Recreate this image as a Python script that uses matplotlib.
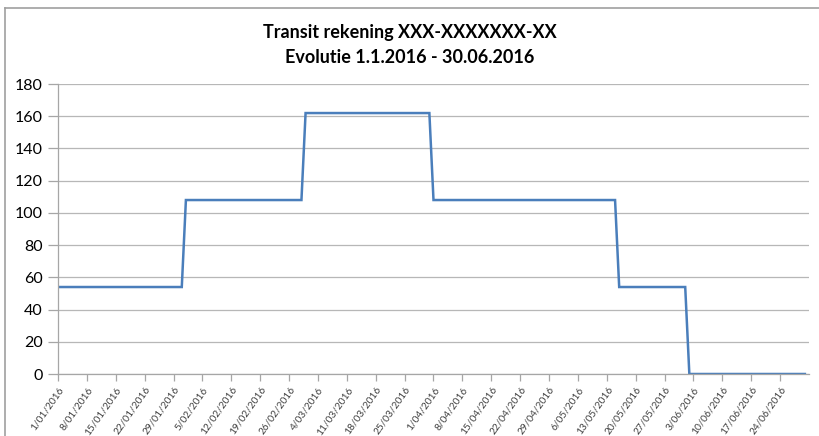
import matplotlib
matplotlib.use("Agg")
import matplotlib.pyplot as plt
import pandas as pd
from matplotlib.lines import Line2D

# corner points of the balance line (daily series, steps over one day)
dates = [
    "2016-01-01", "2016-01-31", "2016-02-01", "2016-02-29", "2016-03-01",
    "2016-03-31", "2016-04-01", "2016-05-15", "2016-05-16", "2016-06-01",
    "2016-06-02", "2016-06-30",
]
balance = [54, 54, 108, 108, 162, 162, 108, 108, 54, 54, 0, 0]

title = "Transit rekening XXX-XXXXXXX-XX\nEvolutie 1.1.2016 - 30.06.2016"
y_ticks = list(range(0, 181, 20))

plt.rcParams["font.family"] = ["Lato", "DejaVu Sans"]

fig = plt.figure(figsize=(8.19, 4.36), dpi=100)
ax = fig.add_axes([0.0708, 0.1422, 0.917, 0.665])

x = pd.to_datetime(dates)
ax.plot(x, balance, color="#4a7ebb", linewidth=1.8, solid_joinstyle="miter")

ax.set_xlim(pd.Timestamp("2016-01-01"), pd.Timestamp("2016-07-01"))
ax.set_ylim(0, 180)
ax.set_yticks(y_ticks)
ax.grid(axis="y", color="#b7b7b7", linewidth=0.9)
ax.set_axisbelow(True)

week_ticks = pd.date_range("2016-01-01", "2016-06-30", freq="7D")
ax.set_xticks(week_ticks)
ax.set_xticklabels([f"{d.day}/{d.month:02d}/{d.year}" for d in week_ticks],
                   rotation=55, ha="right", rotation_mode="anchor",
                   fontsize=7.3, color="#404040")

ax.tick_params(axis="y", labelsize=11.5, length=7, color="#a6a6a6", width=0.9, pad=4)
ax.tick_params(axis="x", length=5, color="#a6a6a6", width=0.9, pad=3)

for side in ["top", "right"]:
    ax.spines[side].set_visible(False)
for side in ["left", "bottom"]:
    ax.spines[side].set_color("#a6a6a6")
    ax.spines[side].set_linewidth(0.9)

fig.text(0.5, 0.897, title, ha="center", va="center", fontsize=13,
         fontweight="bold", linespacing=1.55)

# chart area border (top and left edges visible in the reference)
fig.add_artist(Line2D([5 / 819, 1], [1 - 8 / 436] * 2, transform=fig.transFigure,
                      color="#a0a0a0", linewidth=1.2))
fig.add_artist(Line2D([5 / 819] * 2, [0, 1 - 8 / 436], transform=fig.transFigure,
                      color="#a0a0a0", linewidth=1.2))

fig.savefig("out.png", dpi=100)
